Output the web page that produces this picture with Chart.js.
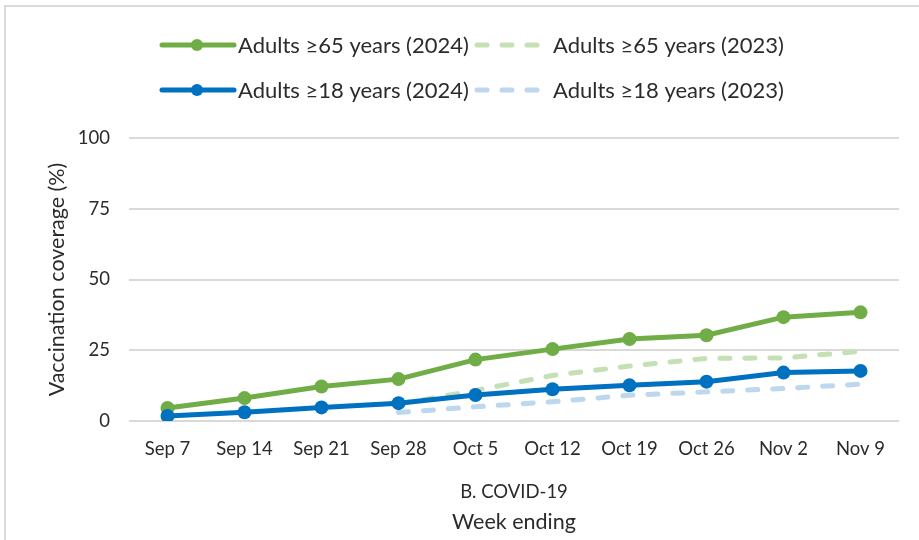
<!DOCTYPE html>
<html>
<head>
<meta charset="utf-8">
<script src="https://cdn.jsdelivr.net/npm/chart.js@4"></script>
<style>
  body { margin: 0; background: #fff; }
  .wrap { position: relative; width: 919px; height: 540px; overflow: hidden; }
  .frame { position: absolute; left: 4px; top: 5px; width: 2000px; height: 2000px;
           border-left: 2px solid #d9d9d9; border-top: 2px solid #d9d9d9; pointer-events: none; }
</style>
</head>
<body>
<div class="wrap">
  <canvas id="myChart"></canvas>
  <div class="frame"></div>
</div>
<script>
// week ending dates
const weeks = ['Sep 7', 'Sep 14', 'Sep 21', 'Sep 28', 'Oct 5', 'Oct 12', 'Oct 19', 'Oct 26', 'Nov 2', 'Nov 9'];

// coverage (%)
const adults65_2024 = [4.6, 8.1, 12.2, 14.8, 21.7, 25.4, 29.0, 30.3, 36.7, 38.4];
const adults65_2023 = [null, null, null, 6.0, 10.8, 16.1, 19.4, 22.1, 22.3, 24.6];
const adults18_2024 = [1.8, 3.1, 4.8, 6.3, 9.2, 11.2, 12.6, 13.9, 17.1, 17.7];
const adults18_2023 = [null, null, null, 3.0, 5.0, 6.8, 9.1, 10.3, 11.5, 13.0];

const yTicks = [0, 25, 50, 75, 100];

const FONT = 'Lato, "Liberation Sans", sans-serif';
const TEXT = '#2b2b2b';

// legend drawn by hand: line symbol with marker, 2 x 2 grid
const legendPlugin = {
  id: 'lineLegend',
  afterDraw(chart) {
    const ctx = chart.ctx;
    const colX = [160, 475];
    const rowY = [45, 90];
    ctx.save();
    ctx.font = '22px ' + FONT;
    ctx.textBaseline = 'middle';
    chart.data.datasets.forEach((ds, i) => {
      const x = colX[i % 2];
      const y = rowY[Math.floor(i / 2)];
      const len = ds.borderDash.length ? 68 : 74;
      ctx.strokeStyle = ds.borderColor;
      ctx.lineWidth = 5;
      ctx.lineCap = 'round';
      ctx.setLineDash(ds.borderDash);
      ctx.beginPath();
      ctx.moveTo(x + 2, y);
      ctx.lineTo(x + len, y);
      ctx.stroke();
      ctx.setLineDash([]);
      if (ds.pointRadius > 0) {
        ctx.fillStyle = ds.borderColor;
        ctx.beginPath();
        ctx.arc(x + 37, y, 6, 0, Math.PI * 2);
        ctx.fill();
      }
      ctx.fillStyle = TEXT;
      ctx.fillText(ds.label, x + len + (ds.borderDash.length ? 10 : 4), y + 1);
    });
    ctx.restore();
  },
};

const solid = (label, data, color, order) => ({
  label,
  data,
  borderColor: color,
  backgroundColor: color,
  borderWidth: 5,
  borderDash: [],
  pointRadius: 7,
  pointHoverRadius: 7,
  pointBorderWidth: 0,
  order,
});

const dashed = (label, data, color, order) => ({
  label,
  data,
  borderColor: color,
  backgroundColor: color,
  borderWidth: 5,
  borderDash: [10, 15],
  borderCapStyle: 'round',
  pointRadius: 0,
  order,
});

const chart = new Chart(document.getElementById('myChart'), {
  type: 'line',
  data: {
    labels: weeks,
    datasets: [
      solid('Adults ≥65 years (2024)', adults65_2024, '#70AD47', 1),
      dashed('Adults ≥65 years (2023)', adults65_2023, '#C5E0B4', 2),
      solid('Adults ≥18 years (2024)', adults18_2024, '#0070C0', 0),
      dashed('Adults ≥18 years (2023)', adults18_2023, '#BDD7EE', 3),
    ],
  },
  options: {
    responsive: true,
    maintainAspectRatio: false,
    animation: false,
    spanGaps: false,
    layout: {
      padding: { top: 138, right: 20, left: 0, bottom: 0 },
    },
    plugins: {
      legend: { display: false },
      tooltip: { enabled: false },
    },
    scales: {
      x: {
        offset: true,
        weight: 0,
        grid: { display: false, drawTicks: false },
        border: { display: false },
        ticks: {
          color: TEXT,
          font: { family: FONT, size: 18.5 },
          padding: 17,
          maxRotation: 0,
          autoSkip: false,
        },
        title: {
          display: true,
          text: 'B. COVID-19',
          color: TEXT,
          font: { family: FONT, size: 18.5, lineHeight: 1.2 },
          padding: { top: 0, bottom: 7 },
        },
        afterFit(scale) {
          scale.height = 89;
        },
      },
      // second bottom axis only carries the "Week ending" title
      x2: {
        type: 'category',
        labels: weeks,
        position: 'bottom',
        offset: true,
        weight: 1,
        grid: { display: false, drawTicks: false },
        border: { display: false },
        ticks: { display: false },
        title: {
          display: true,
          text: 'Week ending',
          color: TEXT,
          font: { family: FONT, size: 21.5, lineHeight: 1.2 },
          padding: { top: 0, bottom: 5 },
        },
        afterFit(scale) {
          scale.height = 30;
        },
      },
      y: {
        min: 0,
        max: 100,
        afterBuildTicks(scale) {
          scale.ticks = yTicks.map((v) => ({ value: v }));
        },
        grid: { color: '#d9d9d9', lineWidth: 2, drawTicks: false },
        border: { display: false },
        ticks: {
          color: TEXT,
          font: { family: FONT, size: 18.5 },
          padding: 19,
        },
        title: {
          display: true,
          text: 'Vaccination coverage (%)',
          color: TEXT,
          font: { family: FONT, size: 21.5, lineHeight: 1.2 },
          padding: { top: 44, bottom: 0 },
        },
        afterFit(scale) {
          scale.width = 129;
        },
      },
    },
  },
  plugins: [legendPlugin],
});
</script>
</body>
</html>
